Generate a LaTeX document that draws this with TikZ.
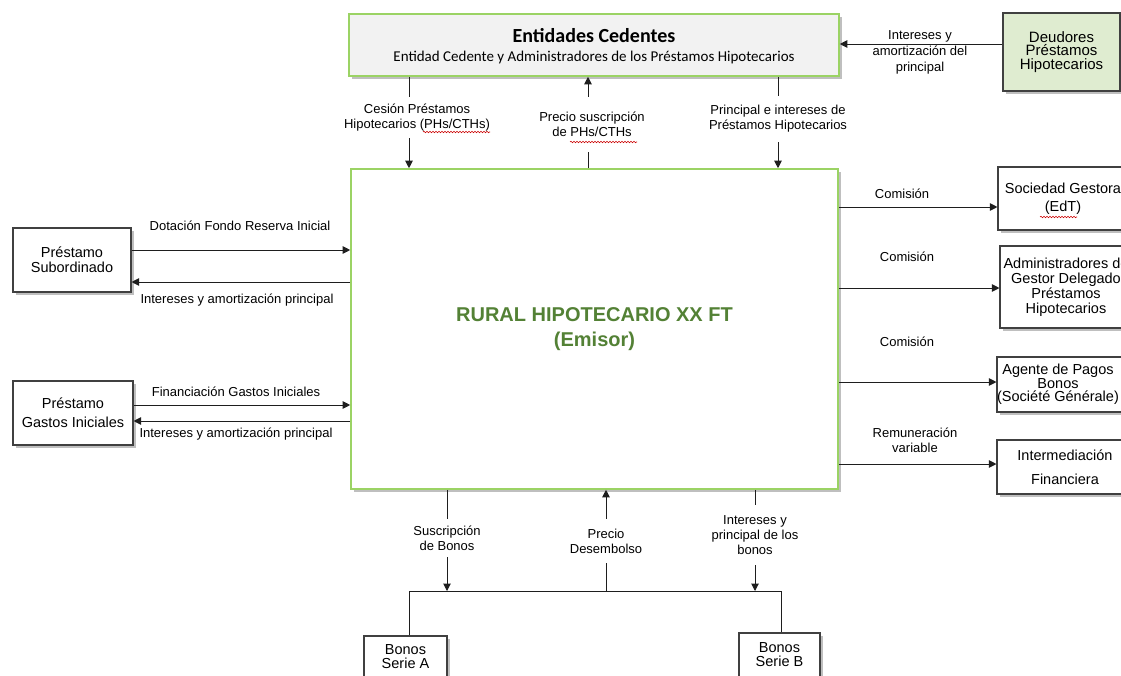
\documentclass[tikz,border=0pt]{standalone}
\usepackage{fontspec}
\setmainfont{Liberation Sans}
\newfontfamily\calfont{Carlito}
\usetikzlibrary{arrows.meta,shadows,decorations.pathmorphing}
\definecolor{lgreen}{RGB}{155,211,100}
\definecolor{dgreen}{RGB}{83,129,53}
\definecolor{deudfill}{RGB}{223,236,208}
\definecolor{entfill}{RGB}{242,242,242}
\definecolor{linec}{RGB}{30,30,30}
\begin{document}
\begin{tikzpicture}[x=1pt,y=-1pt,
 shad/.style={drop shadow={shadow xshift=3pt,shadow yshift=-3pt,fill=black,opacity=0.25}},
 box/.style={draw=linec!85,line width=1.1pt,fill=white,align=center,inner sep=0pt,font=\fontsize{14.5}{15}\selectfont,shad},
 gbox/.style={draw=lgreen,line width=1.6pt,inner sep=0pt,align=center,shad},
 txt/.style={inner sep=0pt,align=center,font=\fontsize{14.5}{15}\selectfont},
 lbl/.style={font=\fontsize{13}{15}\selectfont,align=center,inner sep=1pt},
 gaplbl/.style={lbl,fill=white,inner xsep=2pt},
 arr/.style={draw=linec,line width=1pt,-{Triangle[length=7.5pt,width=7.5pt]}},
 ln/.style={draw=linec,line width=1pt},
 squig/.style={draw=red!80!black,line width=0.6pt,decorate,decoration={snake,amplitude=0.7pt,segment length=3pt}}
]
\useasboundingbox (0,0) rectangle (1121,675);
\clip (0,0) rectangle (1121,675);

% boxes
\node[gbox,fill=entfill,minimum width=490pt,minimum height=62pt] (ent) at (594,45) {};
\node[inner sep=0pt,font=\calfont\bfseries\fontsize{20}{22}\selectfont] (entT) at (594,36) {Entidades Cedentes};
\node[inner sep=0pt,font=\calfont\fontsize{15}{17}\selectfont] (entS) at (594,57) {Entidad Cedente y Administradores de los Préstamos Hipotecarios};

\node[box,fill=deudfill,minimum width=117pt,minimum height=78pt,font=\fontsize{15}{13.5}\selectfont] (deu) at (1061.5,52) {Deudores\\Préstamos\\Hipotecarios};

\node[gbox,fill=white,minimum width=487pt,minimum height=320pt,font=\bfseries\fontsize{20}{25}\selectfont,text=dgreen] (main) at (594.5,329) {RURAL HIPOTECARIO XX FT\\(Emisor)};

\node[box,minimum width=118pt,minimum height=64pt] (sub) at (72,260) {Préstamo\\Subordinado};
\node[box,minimum width=120pt,minimum height=64pt,font=\fontsize{14.5}{19}\selectfont] (gas) at (73,413) {Préstamo\\Gastos Iniciales};

\node[box,minimum width=130pt,minimum height=63pt,font=\fontsize{14.5}{18}\selectfont] (soc) at (1063,198.5) {Sociedad Gestora\\(EdT)};
\node[box,minimum width=132pt,minimum height=82pt] (adm) at (1066,287) {Administradores de\\Gestor Delegado\\Préstamos\\Hipotecarios};
\node[box,minimum width=150pt,minimum height=55pt] (age) at (1072,384.5) {};
\node[txt,font=\fontsize{14.5}{12.5}\selectfont] (ageT) at (1058,384) {Agente de Pagos\\Bonos\\(Société Générale)};
\node[box,minimum width=136pt,minimum height=54pt,font=\fontsize{14.5}{24}\selectfont] (int) at (1065,467) {Intermediación\\Financiera};

\node[box,minimum width=83pt,minimum height=42pt,font=\fontsize{14.5}{14}\selectfont] (bonA) at (405.5,657) {Bonos\\Serie A};
\node[box,minimum width=81pt,minimum height=44pt,font=\fontsize{14.5}{14}\selectfont] (bonB) at (779.5,655) {Bonos\\Serie B};

% connectors top
\draw[arr] (ent.south -| 409,0) -- (main.north -| 409,0);
\draw[arr] (main.north -| 588,0) -- (ent.south -| 588,0);
\draw[arr] (ent.south -| 778,0) -- (main.north -| 778,0);
\draw[arr] (deu.west |- 0,44) -- (ent.east |- 0,44);

% left
\draw[arr] (sub.east |- 0,250) -- (main.west |- 0,250);
\draw[arr] (main.west |- 0,282) -- (sub.east |- 0,282);
\draw[arr] (gas.east |- 0,405) -- (main.west |- 0,405);
\draw[arr] (main.west |- 0,421) -- (gas.east |- 0,421);

% right
\draw[arr] (main.east |- 0,207) -- (soc.west |- 0,207);
\draw[arr] (main.east |- 0,288) -- (adm.west |- 0,288);
\draw[arr] (main.east |- 0,382) -- (age.west |- 0,382);
\draw[arr] (main.east |- 0,464) -- (int.west |- 0,464);

% bottom
\coordinate (busA) at (447,591);
\coordinate (busM) at (606,591);
\coordinate (busB) at (755,591);
\coordinate (busL) at (409,591);
\coordinate (busR) at (781,591);
\draw[arr] (main.south -| busA) -- (busA);
\draw[arr] (busM) -- (main.south -| busM);
\draw[arr] (main.south -| busB) -- (busB);
\draw[ln] (bonA.north -| busL) -- (busL) -- (busR) -- (bonB.north -| busR);

% labels
\node[gaplbl,minimum height=41pt] (l1) at (417,117.5) {Cesión Préstamos\\Hipotecarios (PHs/CTHs)};
\node[gaplbl,minimum height=55pt] (l2) at (592,124.5) {Precio suscripción\\de PHs/CTHs};
\node[gaplbl,minimum height=46pt] (l3) at (778,119) {Principal e intereses de\\Préstamos Hipotecarios};
\node[lbl,font=\fontsize{13}{16}\selectfont] (l4) at (920,52) {Intereses y\\amortización del\\principal};

\node[lbl] (l5) at (240,226) {Dotación Fondo Reserva Inicial};
\node[lbl] (l6) at (237,300) {Intereses y amortización principal};
\node[lbl] (l7) at (236,392) {Financiación Gastos Iniciales};
\node[lbl] (l8) at (236,434) {Intereses y amortización principal};

\node[lbl] (l9) at (902,194) {Comisión};
\node[lbl] (l10) at (907,257) {Comisión};
\node[lbl] (l11) at (907,342) {Comisión};
\node[lbl] (l12) at (915,440) {Remuneración\\variable};

\node[gaplbl,minimum height=38pt] (l13) at (447,538) {Suscripción\\de Bonos};
\node[gaplbl,minimum height=44pt] (l14) at (606,541) {Precio\\Desembolso};
\node[gaplbl,minimum height=60pt] (l15) at (755,535) {Intereses y\\principal de los\\bonos};

% spell-check marks
\draw[squig] (423,132) -- (490,132);
\draw[squig] (570,142) -- (637,142);
\draw[squig] (1040,217) -- (1077,217);
\end{tikzpicture}
\end{document}
